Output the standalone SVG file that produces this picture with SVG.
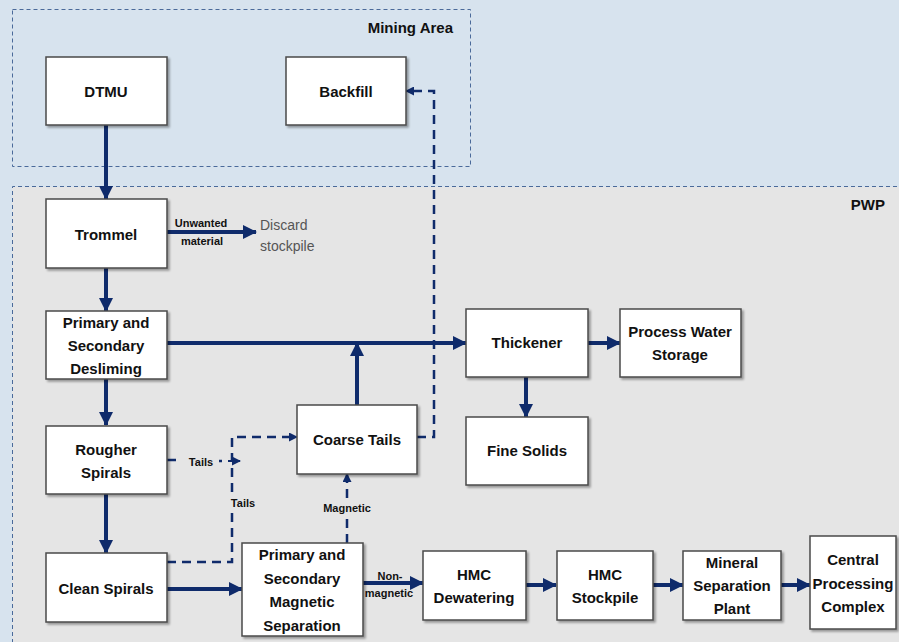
<svg xmlns="http://www.w3.org/2000/svg" width="899" height="642" viewBox="0 0 899 642">
<defs>
<style>
.box{fill:#fff;stroke:#4a4a4a;stroke-width:1.5;filter:url(#sh)}
.t{font-family:"Liberation Sans",Arial,sans-serif;font-weight:bold;font-size:15px;fill:#111;text-anchor:middle}
.s{font-family:"Liberation Sans",Arial,sans-serif;font-weight:bold;font-size:11px;fill:#111;text-anchor:middle}
.r{font-family:"Liberation Sans",Arial,sans-serif;font-size:14px;fill:#555}
.solid{fill:none;stroke:#0f2b6b;stroke-width:4;marker-end:url(#ah)}
.dash{fill:none;stroke:#0f2b6b;stroke-width:2.5;stroke-dasharray:9 6}
.area{fill:none;stroke:#4a6a9a;stroke-width:1;stroke-dasharray:4 3}
</style>
<filter id="sh" x="-10%" y="-10%" width="130%" height="130%">
<feDropShadow dx="2" dy="2" stdDeviation="1.2" flood-color="#000" flood-opacity="0.35"/>
</filter>
<marker id="ah" markerUnits="userSpaceOnUse" markerWidth="14" markerHeight="14" viewBox="0 0 14 14" refX="13" refY="7" orient="auto">
<path d="M0,0 L14,7 L0,14 Z" fill="#0f2b6b"/>
</marker>
<marker id="ad" markerUnits="userSpaceOnUse" markerWidth="9" markerHeight="9" viewBox="0 0 9 9" refX="8" refY="4.5" orient="auto">
<path d="M0,0 L9,4.5 L0,9 Z" fill="#0f2b6b"/>
</marker>
</defs>
<rect x="0" y="0" width="899" height="642" fill="#d7e3ee"/>
<g id="mining-area">
<rect class="area" x="12.5" y="9.5" width="458" height="157"/>
<text class="t" x="453" y="33" style="text-anchor:end">Mining Area</text>
</g>
<g id="pwp">
<rect x="12" y="187" width="887" height="455" fill="#e5e5e5"/>
<path class="area" d="M12.5,650 L12.5,186.5 L899,186.5"/>
<text class="t" x="885" y="210" style="text-anchor:end">PWP</text>
</g>
<g id="connectors">
<path class="solid" d="M106,125 L106,199"/>
<path class="solid" d="M106,268 L106,311"/>
<path class="solid" d="M106,379 L106,425"/>
<path class="solid" d="M106,494 L106,553"/>
<path class="solid" d="M167,232 L256,232"/>
<path class="solid" d="M167,343 L466,343"/>
<path class="solid" d="M357,405 L357,343"/>
<path class="solid" d="M588,343 L620,343"/>
<path class="solid" d="M526,377 L526,417"/>
<path class="solid" d="M167,589 L242,589"/>
<path class="solid" d="M363,583 L423,583"/>
<path class="solid" d="M526,585 L556,585"/>
<path class="solid" d="M653,585 L683,585"/>
<path class="solid" d="M781,585 L810,585"/>
<path class="dash" d="M167,460 L178,460"/>
<path class="dash" d="M219,461 L222,461"/>
<path class="dash" d="M228,461 L240,461" style="stroke-dasharray:none;stroke-width:2" marker-end="url(#ad)"/>
<path class="dash" d="M167,562 L232,562 L232,437 L297,437" marker-end="url(#ad)"/>
<path class="dash" d="M347,543 L347,474" marker-end="url(#ad)"/>
<path class="dash" d="M417,437 L434,437 L434,91 L406,91" marker-end="url(#ad)"/>
<text class="s" x="201" y="227">Unwanted</text>
<text class="s" x="202" y="245">material</text>
<text class="r" x="260" y="230">Discard</text>
<text class="r" x="260" y="251">stockpile</text>
<text class="s" x="201" y="466">Tails</text>
<rect x="230" y="494" width="26" height="16" fill="#e5e5e5"/>
<text class="s" x="243" y="507">Tails</text>
<rect x="320" y="500" width="54" height="16" fill="#e5e5e5"/>
<text class="s" x="347" y="512">Magnetic</text>
<text class="s" x="390" y="580">Non-</text>
<text class="s" x="389" y="597">magnetic</text>
</g>
<g id="dtmu"><rect class="box" x="46" y="57" width="121" height="68"/><text class="t" x="106" y="97">DTMU</text></g>
<g id="backfill"><rect class="box" x="286" y="57" width="120" height="68"/><text class="t" x="346" y="97">Backfill</text></g>
<g id="trommel"><rect class="box" x="46" y="199" width="121" height="69"/><text class="t" x="106" y="240">Trommel</text></g>
<g id="desliming"><rect class="box" x="46" y="311" width="121" height="68"/><text class="t" x="106" y="328">Primary and</text><text class="t" x="106" y="351">Secondary</text><text class="t" x="106" y="374">Desliming</text></g>
<g id="rougher"><rect class="box" x="46" y="426" width="121" height="68"/><text class="t" x="106" y="455">Rougher</text><text class="t" x="106" y="478">Spirals</text></g>
<g id="clean"><rect class="box" x="46" y="553" width="121" height="69"/><text class="t" x="106" y="594">Clean Spirals</text></g>
<g id="coarse-tails"><rect class="box" x="297" y="405" width="120" height="69"/><text class="t" x="357" y="445">Coarse Tails</text></g>
<g id="thickener"><rect class="box" x="466" y="309" width="122" height="68"/><text class="t" x="527" y="348">Thickener</text></g>
<g id="process-water"><rect class="box" x="620" y="309" width="121" height="68"/><text class="t" x="680" y="337">Process Water</text><text class="t" x="680" y="360">Storage</text></g>
<g id="fine-solids"><rect class="box" x="466" y="417" width="122" height="68"/><text class="t" x="527" y="456">Fine Solids</text></g>
<g id="magnetic-sep"><rect class="box" x="242" y="543" width="121" height="93"/><text class="t" x="302" y="560">Primary and</text><text class="t" x="302" y="584">Secondary</text><text class="t" x="302" y="607">Magnetic</text><text class="t" x="302" y="631">Separation</text></g>
<g id="hmc-dewatering"><rect class="box" x="423" y="551" width="103" height="69"/><text class="t" x="474" y="580">HMC</text><text class="t" x="474" y="603">Dewatering</text></g>
<g id="hmc-stockpile"><rect class="box" x="557" y="551" width="96" height="69"/><text class="t" x="605" y="580">HMC</text><text class="t" x="605" y="603">Stockpile</text></g>
<g id="mineral-sep"><rect class="box" x="683" y="551" width="98" height="69"/><text class="t" x="732" y="568">Mineral</text><text class="t" x="732" y="591">Separation</text><text class="t" x="732" y="614">Plant</text></g>
<g id="central"><rect class="box" x="810" y="536" width="86" height="93"/><text class="t" x="853" y="565">Central</text><text class="t" x="853" y="589">Processing</text><text class="t" x="853" y="612">Complex</text></g>
</svg>
